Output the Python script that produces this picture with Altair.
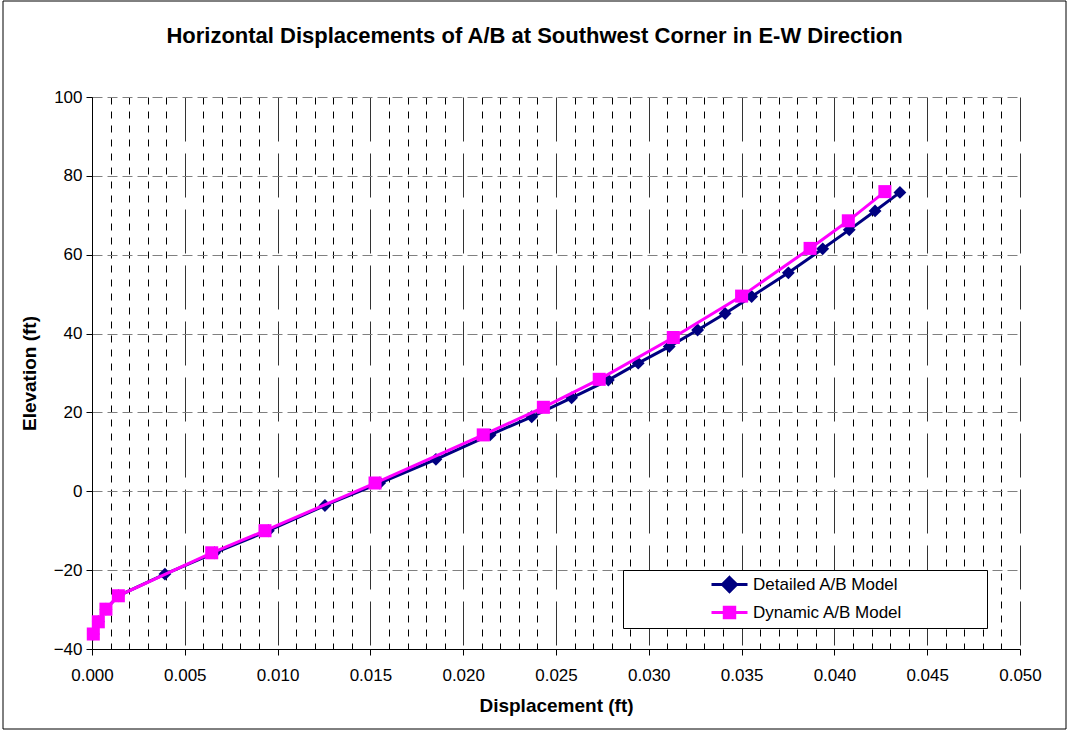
import altair as alt
import pandas as pd

# ---- data ----
detailed_disp = [0.00007, 0.00034, 0.00075, 0.00142, 0.00393, 0.0066, 0.0095, 0.01255,
                 0.0155, 0.01853, 0.02145, 0.02369, 0.02584, 0.02782, 0.02943, 0.0311,
                 0.03263, 0.03411, 0.03554, 0.03752, 0.03937, 0.0408, 0.04219, 0.04353]
detailed_elev = [-36.2, -33.1, -29.9, -26.5, -21.0, -15.6, -10.0, -3.6,
                 2.1, 8.1, 14.3, 18.9, 23.7, 28.2, 32.5, 36.7,
                 40.9, 45.1, 49.4, 55.4, 61.5, 66.3, 71.1, 75.8]
dynamic_disp = [0.00007, 0.00034, 0.00075, 0.00142, 0.00645, 0.00932, 0.01525, 0.02108,
                0.02432, 0.02733, 0.03132, 0.035, 0.03869, 0.04075, 0.04272]
dynamic_elev = [-36.2, -33.1, -29.9, -26.5, -15.6, -10.0, 2.1, 14.3,
                21.3, 28.4, 39.0, 49.5, 61.6, 68.6, 76.0]
series_names = ["Detailed A/B Model", "Dynamic A/B Model"]
series_colors = ["#000080", "#ff00ff"]
series_shapes = ["diamond", "square"]
series_sizes = [165, 170]
x_ticks = [round(i * 0.001, 3) for i in range(51)]
y_ticks = [-40, -20, 0, 20, 40, 60, 80, 100]

rows = []
for i, (d, e) in enumerate(zip(detailed_disp, detailed_elev)):
    rows.append({"series": series_names[0], "disp": d, "elev": e, "order": i})
for i, (d, e) in enumerate(zip(dynamic_disp, dynamic_elev)):
    rows.append({"series": series_names[1], "disp": d, "elev": e, "order": i})
df = pd.DataFrame(rows)

FONT = "Liberation Sans"

major_test = "abs(round(datum.value*1000)) % 5 === 0"

x_axis = alt.Axis(
    values=x_ticks,
    labelExpr=f"{major_test} ? format(datum.value, '.3f') : ''",
    title="Displacement (ft)",
    grid=True,
    gridDash={"condition": {"test": major_test, "value": [44, 12]}, "value": [7, 7]},
    gridColor={"condition": {"test": major_test, "value": "#333333"}, "value": "#000000"},
    gridWidth=1,
    tickSize={"condition": {"test": major_test, "value": 6}, "value": 0},
    tickColor="black",
    domainColor="black",
    labelFontSize=17,
    labelColor="black",
    labelPadding=12,
    labelFlush=False,
    titleFontSize=19,
    titleFontWeight="bold",
    titleColor="black",
    titlePadding=13,
)
y_axis = alt.Axis(
    values=y_ticks,
    title="Elevation (ft)",
    grid=True,
    gridDash=[10, 5],
    gridColor="#808080",
    gridWidth=1,
    tickSize=6,
    tickColor="black",
    domainColor="black",
    labelFontSize=17,
    labelColor="black",
    labelPadding=4,
    titleFontSize=19,
    titleFontWeight="bold",
    titleColor="black",
    titlePadding=14,
)

x_enc = alt.X("disp:Q", scale=alt.Scale(domain=[0, 0.05], nice=False, zero=False), axis=x_axis)
y_enc = alt.Y("elev:Q", scale=alt.Scale(domain=[-40, 100], nice=False, zero=False), axis=y_axis)

# legend symbols: a line segment with the marker in its middle
legend_paths = ["M-2,0H2M0,-0.78L0.78,0L0,0.78L-0.78,0Z",
                "M-2,0H2M-0.58,-0.58H0.58V0.58H-0.58Z"]

NBSP = "\u00a0"
ZWSP = "\u200b"
legend = alt.Legend(
    title=None,
    orient="none",
    legendX=531,
    legendY=473,
    fillColor="white",
    strokeColor="black",
    padding=4,
    symbolSize=324,
    symbolStrokeWidth=3,
    symbolOpacity=1,
    symbolOffset=92,
    labelOffset=13,
    rowPadding=3,
    labelFontSize=17,
    labelFont=FONT,
    labelColor="black",
    labelExpr="datum.label + '" + NBSP * 17 + ZWSP + "'",
    labelLimit=600,
)

legend_layer = alt.Chart(df).transform_filter("false").mark_point(
    filled=True, opacity=1, strokeWidth=3
).encode(
    x=x_enc, y=y_enc,
    fill=alt.Fill("series:N", scale=alt.Scale(domain=series_names, range=series_colors), legend=legend),
    stroke=alt.Stroke("series:N", scale=alt.Scale(domain=series_names, range=series_colors), legend=legend),
    shape=alt.Shape("series:N", scale=alt.Scale(domain=series_names, range=legend_paths), legend=legend),
)

frame = alt.Chart(pd.DataFrame({"a": [0]})).mark_rect(
    fill=None, stroke="black", strokeWidth=1
).encode(
    x=alt.value(-89), x2=alt.value(974), y=alt.value(-96), y2=alt.value(632)
)

layers = []
for name, col, shp, sz in zip(series_names, series_colors, series_shapes, series_sizes):
    sub = alt.Chart(df).transform_filter(alt.datum.series == name)
    layers.append(sub.mark_line(strokeWidth=3, color=col).encode(x=x_enc, y=y_enc, order="order:Q"))
    layers.append(sub.mark_point(filled=True, opacity=1, size=sz, shape=shp, color=col).encode(x=x_enc, y=y_enc))

chart = alt.layer(frame, *layers, legend_layer).properties(
    width=928,
    height=552,
    title=alt.TitleParams(
        "Horizontal Displacements of A/B at Southwest Corner in E-W Direction",
        fontSize=22, fontWeight="bold", font=FONT, color="black",
        anchor="middle", frame="bounds", offset=-47,
    ),
    autosize=alt.AutoSizeParams(type="none"),
    padding={"left": 92, "top": 97, "right": 48, "bottom": 82},
    background="white",
).configure(font=FONT).configure_view(stroke=None).configure_axis(
    labelFont=FONT, titleFont=FONT
)

chart.save("out.html", embed_options={"renderer": "svg", "actions": False})
